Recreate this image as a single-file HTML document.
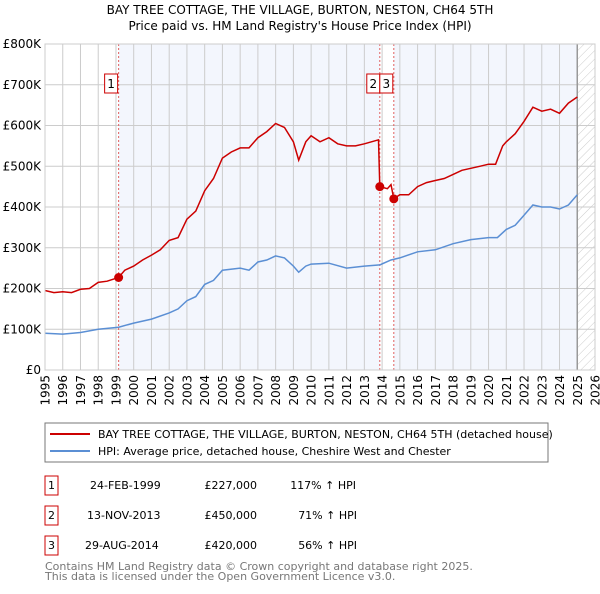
<!DOCTYPE html>
<html><head><meta charset="utf-8"><style>
body{margin:0;background:#fff;font-family:"DejaVu Sans","Liberation Sans",sans-serif;}
svg text{font-family:"DejaVu Sans","Liberation Sans",sans-serif;}
</style></head><body>
<svg id="c" width="600" height="590" xmlns="http://www.w3.org/2000/svg">
<defs><pattern id="hatch" width="6" height="6" patternUnits="userSpaceOnUse" patternTransform="rotate(45)"><line x1="0" y1="0" x2="0" y2="6" stroke="#ccc" stroke-width="1"/></pattern></defs>
<text x="300" y="14" text-anchor="middle" font-size="12">BAY TREE COTTAGE, THE VILLAGE, BURTON, NESTON, CH64 5TH</text>
<text x="300" y="30" text-anchor="middle" font-size="12">Price paid vs. HM Land Registry's House Price Index (HPI)</text>
<g id="plot"></g>
<rect x="45" y="423" width="503" height="39" fill="#fff" stroke="#777"/>
<line x1="50" y1="434" x2="90" y2="434" stroke="#cc0000" stroke-width="2"/>
<text x="98" y="438" font-size="11">BAY TREE COTTAGE, THE VILLAGE, BURTON, NESTON, CH64 5TH (detached house)</text>
<line x1="50" y1="451" x2="90" y2="451" stroke="#5b8fd4" stroke-width="2"/>
<text x="98" y="455" font-size="11">HPI: Average price, detached house, Cheshire West and Chester</text>
<g font-size="11">
<rect x="45" y="476" width="13" height="19" fill="#fff" stroke="#cc0000"/><text x="51.5" y="489" text-anchor="middle">1</text>
<text x="90" y="489">24-FEB-1999</text><text x="257" y="489" text-anchor="end">£227,000</text><text x="356" y="489" text-anchor="end">117% ↑ HPI</text>
<rect x="45" y="506" width="13" height="19" fill="#fff" stroke="#cc0000"/><text x="51.5" y="519" text-anchor="middle">2</text>
<text x="87" y="519">13-NOV-2013</text><text x="257" y="519" text-anchor="end">£450,000</text><text x="357" y="519" text-anchor="end">71% ↑ HPI</text>
<rect x="45" y="536" width="13" height="19" fill="#fff" stroke="#cc0000"/><text x="51.5" y="549" text-anchor="middle">3</text>
<text x="85" y="549">29-AUG-2014</text><text x="257" y="549" text-anchor="end">£420,000</text><text x="357" y="549" text-anchor="end">56% ↑ HPI</text>
</g>
<text x="45" y="570" font-size="11" fill="#777">Contains HM Land Registry data © Crown copyright and database right 2025.</text>
<text x="45" y="580" font-size="11" fill="#777">This data is licensed under the Open Government Licence v3.0.</text>
</svg>
<script>
const years=[1995,1996,1997,1998,1999,2000,2001,2002,2003,2004,2005,2006,2007,2008,2009,2010,2011,2012,2013,2014,2015,2016,2017,2018,2019,2020,2021,2022,2023,2024,2025,2026];
const yTicks=[0,100,200,300,400,500,600,700,800];
const yTickLabels=["£0","£100K","£200K","£300K","£400K","£500K","£600K","£700K","£800K"];
const saleDates=[1999.15,2013.87,2014.66];
const salePrices=[227,450,420];
const saleLabels=["1","2","3"];
const redT=[1995,1995.5,1996,1996.5,1997,1997.5,1998,1998.5,1999.15,1999.5,2000,2000.5,2001,2001.5,2002,2002.5,2003,2003.5,2004,2004.5,2005,2005.5,2006,2006.5,2007,2007.5,2008,2008.5,2009,2009.3,2009.7,2010,2010.5,2011,2011.5,2012,2012.5,2013,2013.8,2013.87,2014.3,2014.5,2014.66,2015,2015.5,2016,2016.5,2017,2017.5,2018,2018.5,2019,2019.5,2020,2020.4,2020.8,2021,2021.5,2022,2022.5,2023,2023.5,2024,2024.5,2025];
const redV=[195,190,192,190,198,200,215,218,227,245,255,270,282,295,318,325,370,390,440,470,520,535,545,545,570,585,605,595,560,515,560,575,560,570,555,550,550,555,565,450,445,455,420,430,430,450,460,465,470,480,490,495,500,505,505,550,560,580,610,645,635,640,630,655,670];
const blueT=[1995,1996,1997,1998,1999.15,2000,2001,2002,2002.5,2003,2003.5,2004,2004.5,2005,2006,2006.5,2007,2007.5,2008,2008.5,2009,2009.3,2009.7,2010,2011,2012,2013,2013.87,2014.5,2015,2016,2017,2018,2019,2020,2020.5,2021,2021.5,2022,2022.5,2023,2023.5,2024,2024.5,2025];
const blueV=[90,88,92,100,105,115,125,140,150,170,180,210,220,245,250,245,265,270,280,275,255,240,255,260,262,250,255,258,270,275,290,295,310,320,325,325,345,355,380,405,400,400,395,405,430];
const X0=45,X1=595,Y0=370,Y1=44;
const xs=t=>X0+(t-1995)/(2026-1995)*(X1-X0);
const ys=v=>Y0-v/800*(Y0-Y1);
const g=document.getElementById('plot');
const NS='http://www.w3.org/2000/svg';
function mk(tag,attrs){const e=document.createElementNS(NS,tag);for(const k in attrs)e.setAttribute(k,attrs[k]);g.appendChild(e);return e;}
let e;
e=mk('rect',{x:xs(saleDates[0]),y:Y1,width:xs(saleDates[1])-xs(saleDates[0]),height:Y0-Y1,fill:'#f3f6fd'});


e=mk('rect',{x:xs(saleDates[2]),y:Y1,width:xs(2025)-xs(saleDates[2]),height:Y0-Y1,fill:'#f3f6fd'});


e=mk('rect',{x:xs(2025),y:Y1,width:X1-xs(2025),height:Y0-Y1,fill:'url(#hatch)'});


years.forEach(y=>{
 e=mk('line',{x1:xs(y),x2:xs(y),y1:Y1,y2:Y0,stroke:'#ccc','stroke-width':1});
 
 
 const tx=xs(y)+4.5,ty=375;
 e=mk('text',{x:tx,y:ty,'text-anchor':'end','font-size':12,transform:'rotate(-90 '+tx+' '+ty+')'});e.textContent=y;
 
 
});
yTicks.forEach((v,i)=>{
 e=mk('line',{x1:X0,x2:X1,y1:ys(v),y2:ys(v),stroke:'#ccc','stroke-width':1});
 
 
 e=mk('text',{x:41,y:ys(v)+4,'text-anchor':'end','font-size':12});e.textContent=yTickLabels[i];
 
 
});
e=mk('line',{x1:xs(2025),x2:xs(2025),y1:Y1,y2:Y0,stroke:'#999','stroke-width':1.5});


saleDates.forEach((d,i)=>{
 e=mk('line',{x1:xs(d),x2:xs(d),y1:Y1,y2:Y0,stroke:'#e06060','stroke-width':1,'stroke-dasharray':'2,2'});
 
 
});
function path(T,V,color,name){
 let d=T.map((t,i)=>(i?'L':'M')+xs(t).toFixed(1)+','+ys(V[i]).toFixed(1)).join('');
 e=mk('path',{d:d,fill:'none',stroke:color,'stroke-width':1.5});
 
 
}
path(blueT,blueV,'#5b8fd4','hpi-line');
path(redT,redV,'#cc0000','property-price-line');
saleDates.forEach((d,i)=>{
 e=mk('circle',{cx:xs(d),cy:ys(salePrices[i]),r:4.5,fill:'#cc0000'});
 
 
});
const boxX=[xs(saleDates[0])-14,xs(saleDates[1])-13,xs(saleDates[1])];
saleDates.forEach((d,i)=>{
 e=mk('rect',{x:boxX[i],y:74,width:13,height:19,fill:'#fff',stroke:'#cc0000'});
 
 
 e=mk('text',{x:boxX[i]+6.5,y:88,'text-anchor':'middle','font-size':12});e.textContent=saleLabels[i];
 
 
});
e=mk('rect',{x:X0,y:Y1,width:X1-X0,height:Y0-Y1,fill:'none',stroke:'#ccc'});


</script>
</body></html>
